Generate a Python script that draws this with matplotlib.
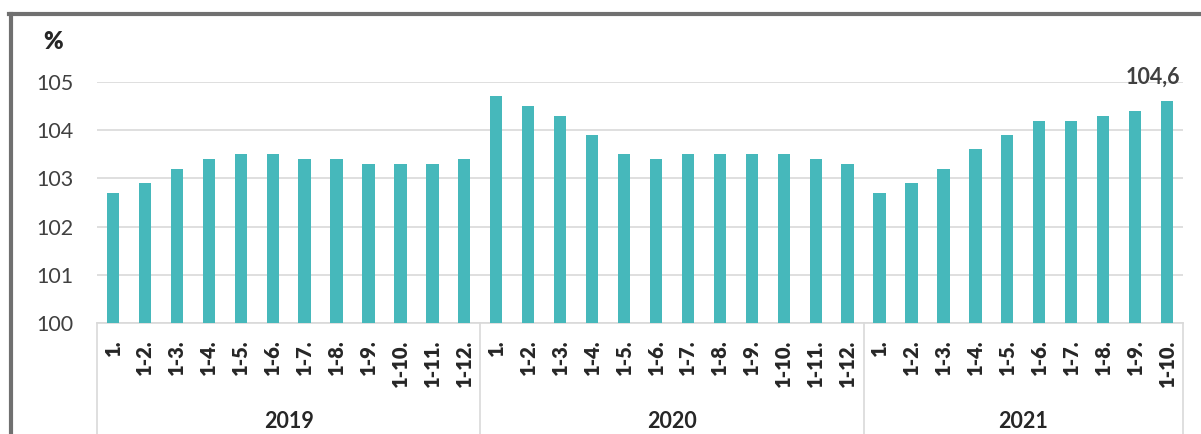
import matplotlib
matplotlib.use('Agg')
import matplotlib.pyplot as plt
from matplotlib.lines import Line2D
import matplotlib.transforms as mtransforms
import numpy as np

plt.rcParams['font.family'] = ['Lato', 'DejaVu Sans']

# --- data -------------------------------------------------------------
years = ['2019', '2020', '2021']
periods_2019 = ['1.', '1-2.', '1-3.', '1-4.', '1-5.', '1-6.', '1-7.', '1-8.',
                '1-9.', '1-10.', '1-11.', '1-12.']
periods_2020 = list(periods_2019)
periods_2021 = ['1.', '1-2.', '1-3.', '1-4.', '1-5.', '1-6.', '1-7.', '1-8.',
                '1-9.', '1-10.']
values_2019 = [102.7, 102.9, 103.2, 103.4, 103.5, 103.5, 103.4, 103.4,
               103.3, 103.3, 103.3, 103.4]
values_2020 = [104.7, 104.5, 104.3, 103.9, 103.5, 103.4, 103.5, 103.5,
               103.5, 103.5, 103.4, 103.3]
values_2021 = [102.7, 102.9, 103.2, 103.6, 103.9, 104.2, 104.2, 104.3,
               104.4, 104.6]
yticks = [100, 101, 102, 103, 104, 105]

labels = periods_2019 + periods_2020 + periods_2021
values = values_2019 + values_2020 + values_2021
group_sizes = [len(periods_2019), len(periods_2020), len(periods_2021)]

BAR = '#46B8BB'
TXT = '#404040'
GRID = '#D9D9D9'

W, H = 1201, 434
fig = plt.figure(figsize=(W / 100, H / 100), dpi=100)
ax = fig.add_axes([97 / W, (H - 323) / H, (1183 - 97) / W, (323 - 82) / H])

x = np.arange(len(values))
ax.bar(x, [v - 100 for v in values], bottom=100, width=0.385, color=BAR,
       zorder=3)

ax.set_xlim(-0.5, len(values) - 0.5)
ax.set_ylim(100, 105)
ax.set_yticks(yticks)
ax.set_yticklabels([str(t) for t in yticks], fontsize=15.5, color=TXT)
ax.yaxis.grid(True, color=GRID, lw=1.2, zorder=0)
ax.tick_params(axis='both', length=0)
ax.tick_params(axis='y', pad=17)
ax.tick_params(axis='x', pad=12)
ax.set_xticks(x)
ax.set_xticklabels(labels, rotation=90, fontsize=14.5, fontweight='heavy',
                   color='#262626')

for s in ['top', 'right', 'left']:
    ax.spines[s].set_visible(False)
ax.spines['bottom'].set_color(GRID)
ax.spines['bottom'].set_linewidth(1.2)

# group separators and year labels
trans = mtransforms.blended_transform_factory(ax.transData, ax.transAxes)
ybot = -(H - 323) / (323 - 82)
edges = np.concatenate([[0], np.cumsum(group_sizes)]) - 0.5
for e in edges:
    ax.add_line(Line2D([e, e], [0, ybot], transform=trans, color=GRID,
                       lw=1.2, clip_on=False))
for i, yr in enumerate(years):
    ax.text((edges[i] + edges[i + 1]) / 2, -0.407, yr, transform=trans,
            ha='center', va='center', fontsize=15.5, fontweight='bold',
            color='#262626')

# unit and last value label
fig.text(53 / W, 1 - 42 / H, '%', ha='center', va='center', fontsize=17,
         fontweight='heavy', color='#262626')
ax.annotate('104,6', xy=(x[-1], values[-1]), xytext=(-10, 17),
            textcoords='offset points', ha='center', va='center',
            fontsize=15.5, fontweight='bold', color=TXT)

# outer frame (top and left)
fig.add_artist(Line2D([9 / W, 1], [1 - 14 / H, 1 - 14 / H],
                      transform=fig.transFigure, color='#707070', lw=3))
fig.add_artist(Line2D([11 / W, 11 / W], [0, 1 - 14 / H],
                      transform=fig.transFigure, color='#707070', lw=3))

fig.savefig('out.png', dpi=100)
